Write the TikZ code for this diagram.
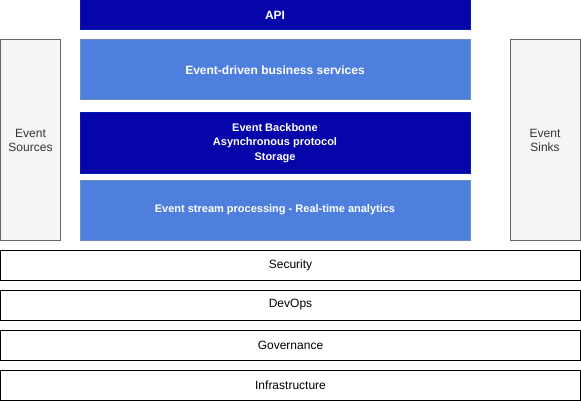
\documentclass[tikz,border=0pt]{standalone}
\usepackage{fontspec}
\setmainfont{Liberation Sans}
\definecolor{darkblue}{HTML}{0505AA}
\definecolor{darkblueb}{HTML}{001DBC}
\definecolor{lightblue}{HTML}{4E7FDD}
\definecolor{lightblueb}{HTML}{6C8EBF}
\definecolor{sidefill}{HTML}{F5F5F5}
\definecolor{sideline}{HTML}{666666}
\definecolor{sidetext}{HTML}{333333}
\begin{document}
\begin{tikzpicture}[x=1pt,y=-1pt,
  base/.style={inner sep=0pt,align=center,font=\fontsize{12}{14}\selectfont},
  darkbox/.style={base,fill=darkblue,draw=darkblueb,line width=1pt,text=white,font=\fontsize{12}{14}\selectfont\bfseries},
  lightbox/.style={base,fill=lightblue,draw=lightblueb,line width=1pt,text=white,font=\fontsize{12}{14}\selectfont\bfseries},
  smalltext/.style={font=\fontsize{11}{14.3}\selectfont\bfseries},
  sidebox/.style={base,fill=sidefill,draw=sideline,line width=1pt,text=sidetext},
  layerbox/.style={base,fill=white,draw=black,line width=1pt,text=black}]
\useasboundingbox (0,0) rectangle (581,401);
\node[darkbox,minimum width=390pt,minimum height=30pt] (api) at (275,15) {API};
\node[lightbox,minimum width=390pt,minimum height=60pt] (eds) at (275,70) {Event-driven business services};
\node[darkbox,smalltext,minimum width=390pt,minimum height=60pt] (ebb) at (275,143) {Event Backbone\\Asynchronous protocol\\Storage};
\node[lightbox,smalltext,minimum width=390pt,minimum height=60pt] (esp) at (275,210) {Event stream processing - Real-time analytics};
\node[sidebox,minimum width=60pt,minimum height=200pt] (src) at (30.5,140) {Event\\Sources};
\node[sidebox,minimum width=70pt,minimum height=200pt] (snk) at (545,140) {Event\\Sinks};
\node[layerbox,minimum width=580pt,minimum height=30pt] (sec) at (290.5,265) {Security};
\node[layerbox,minimum width=580pt,minimum height=30pt] (dev) at (290.5,305) {DevOps};
\node[layerbox,minimum width=580pt,minimum height=30pt] (gov) at (290.5,345) {Governance};
\node[layerbox,minimum width=580pt,minimum height=30pt] (inf) at (290.5,385) {Infrastructure};
\end{tikzpicture}
\end{document}
